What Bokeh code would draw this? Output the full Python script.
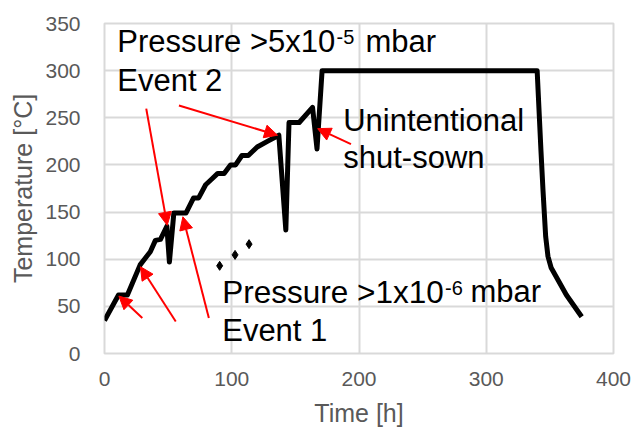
from bokeh.plotting import figure
from bokeh.models import Arrow, NormalHead, Label, FixedTicker, Range1d
from bokeh.embed import file_html
from bokeh.resources import INLINE

# ---- data ----
time_h = [0, 11, 18, 28, 32, 36, 40, 44, 49, 51, 54.5, 64, 70, 74, 79.5, 83.5, 89, 94,
          99, 103, 108, 113, 120, 128, 137, 142.5, 145, 153, 163.5, 167, 171, 340,
          343, 344.6, 346.7, 348.5, 351, 363, 375]
temp_c = [35, 62, 62, 94, 101, 108, 120, 121, 135, 97, 149, 149, 165, 165, 179, 184, 191, 191,
          200, 200, 210, 210, 219, 225, 231.5, 131, 245, 245, 261, 217, 300, 300,
          215, 173, 124, 103, 91, 62, 39]

dots_x = [90.5, 102.6, 113.6]
dots_y = [93, 104.6, 116]

arrow_tail_x = [29.7, 56, 82, 32.8, 58.5, 193.7]
arrow_tail_y = [37.7, 34, 37.7, 259.7, 263, 222]
arrow_head_x = [11.3, 28.3, 61.6, 49.3, 136, 167.5]
arrow_head_y = [60.9, 92, 145, 136, 231.5, 238.5]

x_ticks = [0, 100, 200, 300, 400]
y_ticks = [0, 50, 100, 150, 200, 250, 300, 350]

FONT = "Liberation Sans"
GRID = "#d9d9d9"
GREY = "#595959"

p = figure(width=635, height=429, output_backend="svg", toolbar_location=None,
           x_range=Range1d(0, 400), y_range=Range1d(0, 350),
           min_border_left=104, min_border_right=22, min_border_top=23, min_border_bottom=75,
           x_axis_label="Time [h]", y_axis_label="Temperature [°C]")

p.background_fill_color = "white"
p.border_fill_color = "white"
p.outline_line_color = GRID
p.outline_line_width = 2

for ax in (p.xaxis[0], p.yaxis[0]):
    ax.axis_line_color = None
    ax.major_tick_line_color = None
    ax.minor_tick_line_color = None
    ax.major_label_text_font = FONT
    ax.major_label_text_color = GREY
    ax.major_label_text_font_size = "21px"
    ax.axis_label_text_font = FONT
    ax.axis_label_text_color = GREY
    ax.axis_label_text_font_size = "25px"
    ax.axis_label_text_font_style = "normal"

p.xaxis[0].ticker = FixedTicker(ticks=x_ticks)
p.yaxis[0].ticker = FixedTicker(ticks=y_ticks)
p.xaxis[0].major_label_standoff = 12
p.xaxis[0].axis_label_standoff = 10
p.yaxis[0].major_label_standoff = 18
p.yaxis[0].axis_label_standoff = 5

p.xgrid[0].ticker = FixedTicker(ticks=x_ticks)
p.ygrid[0].ticker = FixedTicker(ticks=y_ticks)
p.grid.grid_line_color = GRID
p.grid.grid_line_width = 2

p.line(time_h, temp_c, line_color="black", line_width=5, line_join="round")
p.scatter(dots_x, dots_y, marker="diamond", size=9, color="black")

for xs, ys, xe, ye in zip(arrow_tail_x, arrow_tail_y, arrow_head_x, arrow_head_y):
    p.add_layout(Arrow(x_start=xs, y_start=ys, x_end=xe, y_end=ye,
                       line_color="red", line_width=2,
                       end=NormalHead(size=13, fill_color="red", line_color="red", line_width=1)))


def lab(x, y, text, size=31):
    p.add_layout(Label(x=x, y=y, text=text, text_font=FONT, text_font_size=f"{size}px",
                       text_color="black", text_align="left", text_baseline="alphabetic",
                       y_offset=round(0.3465 * size, 1)))


lab(10.0, 319.7, "Pressure >5x10")
lab(182.4, 328.3, "-5", 20)
lab(205.1, 319.7, "mbar")
lab(10.0, 278.4, "Event 2")
lab(187.6, 236.1, "Unintentional")
lab(187.6, 196.7, "shut-sown")
lab(92.5, 53.9, "Pressure >1x10", 31.5)
lab(267.6, 62.4, "-6", 20)
lab(287.6, 53.9, "mbar")
lab(92.5, 13.0, "Event 1")

open("out.html", "w").write(file_html(p, INLINE))
